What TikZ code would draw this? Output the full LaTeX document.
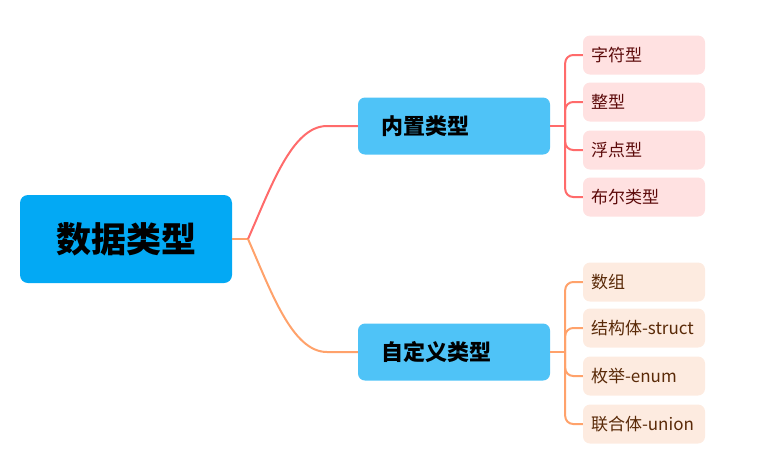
\documentclass[tikz,border=0pt]{standalone}
\usepackage{fontspec}
\setmainfont{Noto Sans CJK SC}
\usetikzlibrary{positioning}

\definecolor{rootblue}{HTML}{03A9F4}
\definecolor{topicblue}{HTML}{4FC3F7}
\definecolor{linered}{HTML}{FF6B6B}
\definecolor{lineorange}{HTML}{FFA26B}
\definecolor{leafpink}{HTML}{FFE1E1}
\definecolor{leafpeach}{HTML}{FDEBE0}
\definecolor{textred}{HTML}{5C0A0A}
\definecolor{textbrown}{HTML}{5A2A08}

\tikzset{
  root/.style={fill=rootblue,rounded corners=8pt,minimum width=212pt,minimum height=88pt,
    inner sep=0pt,font=\fontsize{35}{38}\selectfont\bfseries},
  topic/.style={fill=topicblue,rounded corners=7pt,minimum height=57pt,text width=146pt,
    inner xsep=23pt,inner ysep=0pt,align=left,font=\fontsize{22}{25}\selectfont\bfseries},
  leaf/.style={rounded corners=7pt,minimum height=39pt,text width=106pt,
    inner xsep=8pt,inner ysep=0pt,align=left,font=\fontsize{17}{20}\selectfont},
  leafa/.style={leaf,fill=leafpink,text=textred},
  leafb/.style={leaf,fill=leafpeach,text=textbrown},
  branch/.style={line width=2pt}
}

\begin{document}
\begin{tikzpicture}[x=1pt,y=-1pt]
\useasboundingbox (0,0) rectangle (770,475);

\node[root] (dt) at (126,239) {数据类型};
\node[topic] (nz) at (454,126) {内置类型};
\node[topic] (zd) at (454,352) {自定义类型};

\node[leafa] (zf) at (644,55) {字符型};
\node[leafa] (zx) at (644,102) {整型};
\node[leafa] (fd) at (644,150) {浮点型};
\node[leafa] (be) at (644,197) {布尔类型};

\node[leafb] (sz) at (644,282) {数组};
\node[leafb] (jg) at (644,328) {结构体-struct};
\node[leafb] (mj) at (644,376) {枚举-enum};
\node[leafb] (lh) at (644,424) {联合体-union};

% root to topics
\coordinate (j0) at (248,239);
\draw[branch,lineorange] (dt.east) -- (j0);
\draw[branch,linered] (j0) .. controls (271,187) and (292,126) .. (327,126) -- (nz.west);
\draw[branch,lineorange] (j0) .. controls (271,291) and (292,352) .. (327,352) -- (zd.west);

% topics to leaves
\coordinate (j1) at ([xshift=15pt]nz.east);
\coordinate (j2) at ([xshift=15pt]zd.east);
\draw[branch,linered] (nz.east) -- (j1);
\draw[branch,lineorange] (zd.east) -- (j2);
\foreach \n in {zf,zx,fd,be}
  \draw[branch,linered,rounded corners=8pt] (j1) |- (\n.west);
\foreach \n in {sz,jg,mj,lh}
  \draw[branch,lineorange,rounded corners=8pt] (j2) |- (\n.west);
\end{tikzpicture}
\end{document}
